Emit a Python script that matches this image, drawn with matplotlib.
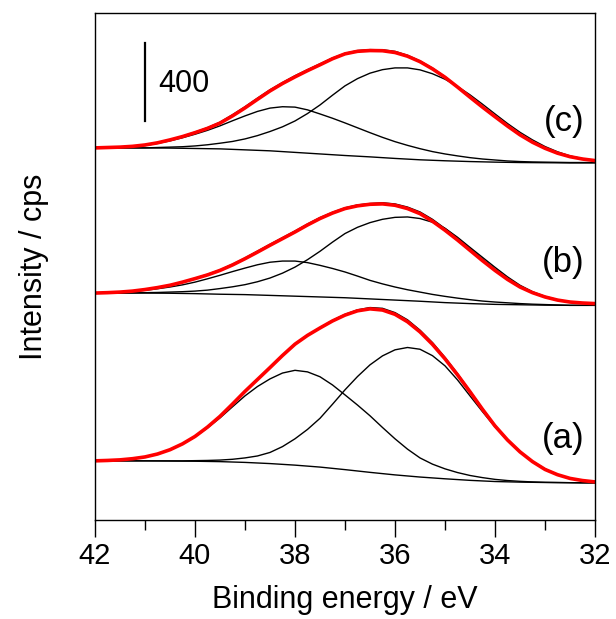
import matplotlib
matplotlib.use("Agg")
import matplotlib.pyplot as plt
import numpy as np
from matplotlib.ticker import MultipleLocator

plt.rcParams['font.family'] = ['Liberation Sans', 'DejaVu Sans']

# binding energy (eV): coarse grid for the backgrounds, fine grid for peaks/envelopes
energy = [42.0, 41.5, 41.0, 40.5, 40.0, 39.5, 39.0, 38.5, 38.0, 37.5, 37.0,
          36.5, 36.0, 35.5, 35.0, 34.5, 34.0, 33.5, 33.0, 32.5, 32.0]
energy_fine = [42.0, 41.75, 41.5, 41.25, 41.0, 40.75, 40.5, 40.25, 40.0, 39.75,
               39.5, 39.25, 39.0, 38.75, 38.5, 38.25, 38.0, 37.75, 37.5, 37.25,
               37.0, 36.75, 36.5, 36.25, 36.0, 35.75, 35.5, 35.25, 35.0, 34.75,
               34.5, 34.25, 34.0, 33.75, 33.5, 33.25, 33.0, 32.75, 32.5, 32.25, 32.0]

# spectrum (a), counts above its own right-end level (cps)
bg_a = [113, 113, 113, 112, 111, 109, 105, 99, 91, 81, 68, 54, 41, 30, 21, 13, 7, 4, 2, 1, 0]
pk1_a = [113, 115, 118, 124, 133, 148, 169, 199, 236, 282, 333, 390, 446, 494, 533, 563, 577, 569, 544, 502,
         451, 399, 344, 284, 226, 173, 128, 96, 72, 53, 38, 27, 18, 12, 8, 5, 3, 2, 1, 0, 0]
pk2_a = [113, 113, 113, 113, 113, 113, 113, 113, 114, 115, 117, 121, 128, 138, 156, 186, 226, 274, 331, 403,
         477, 545, 605, 651, 682, 694, 685, 652, 600, 528, 446, 365, 287, 218, 159, 111, 72, 43, 23, 12, 5]
env_a = [113, 115, 118, 124, 133, 148, 170, 200, 238, 286, 341, 404, 469, 530, 591, 653, 711, 756, 794, 830,
         860, 882, 892, 886, 864, 826, 774, 710, 636, 554, 467, 377, 292, 220, 159, 109, 69, 42, 23, 12, 5]
meas_a = [113, 115, 118, 124, 133, 148, 170, 200, 238, 286, 341, 404, 469, 530, 591, 653, 711, 756, 795, 832,
          863, 886, 898, 894, 872, 835, 782, 718, 642, 559, 470, 379, 294, 221, 160, 109, 69, 42, 23, 12, 5]

# spectrum (b)
bg_b = [63, 63, 63, 62, 60, 57, 55, 51, 47, 43, 39, 33, 27, 21, 14, 9, 5, 3, 1, 0, 0]
pk1_b = [63, 65, 67, 71, 77, 85, 94, 105, 119, 136, 154, 173, 191, 208, 221, 227, 227, 219, 205, 189,
         171, 150, 128, 110, 94, 80, 68, 56, 46, 37, 29, 22, 17, 13, 9, 6, 4, 2, 0, 0, 0]
pk2_b = [63, 63, 63, 64, 65, 66, 68, 70, 73, 78, 86, 95, 106, 121, 140, 165, 196, 234, 277, 324,
         368, 400, 424, 441, 451, 453, 445, 426, 395, 349, 297, 246, 195, 146, 103, 70, 46, 29, 18, 12, 8]
env_b = [63, 65, 68, 73, 81, 91, 103, 119, 137, 156, 179, 207, 239, 273, 308, 342, 376, 412, 445, 473,
         496, 510, 518, 520, 513, 496, 470, 431, 385, 335, 282, 229, 179, 133, 94, 65, 43, 27, 17, 12, 9]
meas_b = [63, 65, 68, 73, 81, 91, 103, 119, 138, 158, 181, 210, 242, 277, 312, 346, 380, 416, 449, 476,
          499, 514, 521, 525, 519, 503, 478, 440, 393, 343, 290, 236, 185, 137, 96, 66, 43, 27, 17, 12, 9]

# spectrum (c)
bg_c = [77, 77, 77, 76, 74, 72, 67, 62, 54, 46, 38, 31, 23, 16, 11, 7, 4, 2, 1, 0, 0]
pk1_c = [77, 78, 79, 83, 89, 100, 113, 129, 147, 167, 190, 216, 241, 264, 281, 288, 286, 272, 251, 229,
         205, 180, 155, 131, 109, 90, 73, 58, 46, 36, 27, 20, 15, 10, 7, 5, 4, 3, 2, 2, 2]
pk2_c = [77, 77, 77, 77, 77, 79, 81, 83, 87, 93, 101, 110, 123, 140, 161, 185, 215, 253, 297, 347,
         395, 432, 460, 478, 487, 487, 477, 457, 429, 392, 349, 301, 251, 202, 157, 118, 84, 57, 36, 22, 12]
env_c = [77, 79, 81, 85, 92, 103, 118, 135, 155, 177, 204, 241, 282, 326, 369, 407, 441, 473, 503, 534,
         559, 572, 576, 575, 566, 547, 519, 482, 439, 389, 337, 286, 237, 189, 144, 106, 75, 50, 32, 20, 12]
meas_c = [77, 79, 81, 85, 92, 103, 118, 136, 157, 180, 208, 246, 287, 331, 374, 411, 446, 477, 507, 537,
          561, 575, 580, 579, 571, 551, 522, 485, 441, 390, 338, 287, 237, 189, 144, 106, 75, 50, 32, 20, 12]

labels = ['(a)', '(b)', '(c)']
offsets = [190, 1100, 1830]
label_y = [415, 1318, 2043]

spectra = [
    (bg_a, pk1_a, pk2_a, meas_a, env_a),
    (bg_b, pk1_b, pk2_b, meas_b, env_b),
    (bg_c, pk1_c, pk2_c, meas_c, env_c),
]

fig = plt.figure(figsize=(6.16, 6.19), dpi=100)
ax = fig.add_axes([0.1542, 0.16, 0.8117, 0.8195])

x = np.array(energy)
xf = np.array(energy_fine)
for (bg, p1, p2, meas, env), off, lab, ly in zip(spectra, offsets, labels, label_y):
    ax.plot(x, np.array(bg) + off, color='black', lw=1.0)
    ax.plot(xf, np.array(p1) + off, color='black', lw=1.0)
    ax.plot(xf, np.array(p2) + off, color='black', lw=1.0)
    ax.plot(xf, np.array(meas) + off, color='black', lw=1.2)
    ax.plot(xf, np.array(env) + off, color='#ff0000', lw=2.6, solid_joinstyle='round')
    ax.text(32.2, ly, lab, ha='right', va='center', fontsize=25)

# 400 cps scale bar
ax.plot([41.0, 41.0], [2045, 2445], color='black', lw=1.6)
ax.text(40.74, 2235, '400', ha='left', va='center', fontsize=22)

ax.set_xlim(42, 32)
ax.set_ylim(0, 2600)
ax.set_yticks([])
ax.xaxis.set_major_locator(MultipleLocator(2))
ax.xaxis.set_minor_locator(MultipleLocator(1))
ax.tick_params(axis='x', which='major', direction='out', length=12, width=1.0,
               labelsize=21, pad=4)
ax.tick_params(axis='x', which='minor', direction='out', length=7, width=1.0)
for s in ax.spines.values():
    s.set_linewidth(1.0)

ax.set_xlabel('Binding energy / eV', fontsize=22, labelpad=11)
ax.set_ylabel('Intensity / cps', fontsize=22, labelpad=33)

fig.savefig('out.png', dpi=100)
